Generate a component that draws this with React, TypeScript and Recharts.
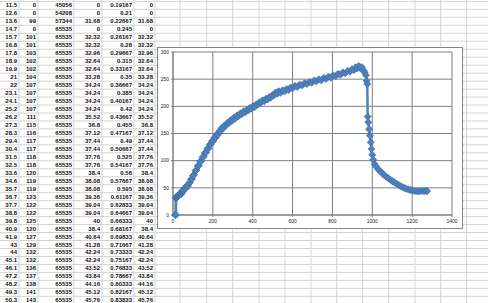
import { LineChart, Line, XAxis, YAxis, CartesianGrid } from "recharts";

// spreadsheet rows visible left of the chart
const tableTime = [11.5, 12.6, 13.6, 14.7, 15.7, 16.8, 17.8, 18.9, 19.9, 21, 22, 23.1, 24.1, 25.2, 26.2, 27.3, 28.3, 29.4, 30.4, 31.5, 32.5, 33.6, 34.6, 35.7, 36.7, 37.7, 38.8, 39.8, 40.9, 41.9, 43, 44, 45.1, 46.1, 47.2, 48.2, 49.3, 50.3];
const tableCount = [0, 0, 99, 0, 101, 101, 103, 102, 102, 104, 107, 107, 107, 107, 111, 115, 116, 117, 117, 118, 118, 120, 119, 119, 123, 122, 122, 125, 120, 127, 129, 132, 132, 136, 137, 138, 141, 143];
const tableRaw = [45056, 54208, 57344, 65535, 65535, 65535, 65535, 65535, 65535, 65535, 65535, 65535, 65535, 65535, 65535, 65535, 65535, 65535, 65535, 65535, 65535, 65535, 65535, 65535, 65535, 65535, 65535, 65535, 65535, 65535, 65535, 65535, 65535, 65535, 65535, 65535, 65535, 65535];
const tableValue = [0, 0, 31.68, 0, 32.32, 32.32, 32.96, 32.64, 32.64, 33.28, 34.24, 34.24, 34.24, 34.24, 35.52, 36.8, 37.12, 37.44, 37.44, 37.76, 37.76, 38.4, 38.08, 38.08, 39.36, 39.04, 39.04, 40, 38.4, 40.64, 41.28, 42.24, 42.24, 43.52, 43.84, 44.16, 45.12, 45.76];
const tableMinutes = [0.19167, 0.21, 0.22667, 0.245, 0.26167, 0.28, 0.29667, 0.315, 0.33167, 0.35, 0.36667, 0.385, 0.40167, 0.42, 0.43667, 0.455, 0.47167, 0.49, 0.50667, 0.525, 0.54167, 0.56, 0.57667, 0.595, 0.61167, 0.62833, 0.64667, 0.66333, 0.68167, 0.69833, 0.71667, 0.73333, 0.75167, 0.76833, 0.78667, 0.80333, 0.82167, 0.83833];

// rest of the run
const laterTime = [55, 60, 65, 70, 75, 80, 85, 90, 95, 100, 106, 112, 118, 124, 130, 136, 142, 148, 154, 160, 166, 172, 178, 184, 190, 196, 202, 208, 214, 220, 226, 232, 238, 244, 250, 258, 266, 274, 282, 290, 298, 306, 314, 322, 330, 338, 346, 354, 362, 370, 378, 386, 394, 402, 410, 418, 426, 434, 442, 450, 458, 466, 474, 482, 490, 498, 506, 514, 522, 530, 540, 550, 560, 570, 580, 590, 600, 612, 624, 636, 648, 660, 672, 684, 696, 708, 720, 732, 744, 756, 768, 780, 792, 804, 816, 828, 840, 852, 864, 876, 888, 898, 908, 916, 924, 932, 940, 948, 956, 962, 968, 972, 975, 977, 980, 984, 988, 992, 996, 1000, 1005, 1012, 1020, 1030, 1040, 1050, 1060, 1070, 1080, 1090, 1100, 1110, 1120, 1130, 1140, 1150, 1160, 1170, 1180, 1190, 1200, 1210, 1220, 1230, 1240, 1250, 1260, 1270, 1275];
const laterValue = [47.0, 49.8, 49.5, 53.9, 53.4, 58.2, 60.3, 65.5, 66.4, 72.3, 74.1, 81.2, 82.9, 90.1, 91.0, 98.4, 99.6, 106.5, 107.3, 114.2, 114.9, 121.9, 122.3, 129.5, 130.4, 136.2, 136.1, 142.5, 142.4, 148.3, 148.0, 154.1, 154.4, 160.0, 158.7, 164.6, 164.8, 170.1, 169.5, 174.6, 173.7, 179.3, 178.0, 183.2, 182.1, 186.9, 185.8, 190.7, 189.2, 193.6, 192.4, 197.3, 195.8, 200.4, 199.0, 203.5, 203.1, 207.2, 207.4, 211.0, 209.3, 213.9, 212.6, 216.8, 215.9, 220.3, 220.1, 225.2, 223.0, 227.9, 225.0, 229.4, 227.6, 231.8, 230.2, 234.5, 233.1, 237.6, 235.9, 240.1, 238.4, 242.6, 241.1, 245.0, 243.6, 247.5, 246.1, 249.7, 248.0, 252.2, 250.5, 254.6, 253.0, 257.1, 255.4, 259.6, 258.3, 262.4, 260.9, 265.2, 264.0, 268.3, 266.7, 271.6, 269.9, 274.2, 270.1, 272.0, 266.0, 262.5, 257.4, 246.8, 241.0, 181.0, 170.5, 158.0, 146.2, 133.7, 121.5, 110.8, 101.6, 93.4, 88.5, 84.0, 80.3, 76.9, 73.2, 70.4, 67.8, 65.1, 62.3, 60.4, 58.0, 55.9, 53.4, 51.6, 49.8, 48.5, 47.0, 46.2, 45.3, 44.6, 44.0, 43.7, 43.9, 44.2, 43.8, 44.5, 44.0];

const xTicks = [0, 200, 400, 600, 800, 1000, 1200, 1400];
const yTicks = [0, 50, 100, 150, 200, 250, 300];

const BLUE = "#4F81BD";
const GRID = "#d3d3d3";
const ROW_H = 7.97;
const ROW_Y0 = 5.4;
const leftCols = [19, 38, 74, 102, 134, 155];
const rightCols = [180, 206.7, 232.7, 259, 285, 311, 336.7, 362.7, 388.7, 415, 440.7, 466.7];

const data = tableTime
  .map((t, i) => ({ t, v: tableValue[i] }))
  .concat(laterTime.map((t, i) => ({ t, v: laterValue[i] })));

function Diamond(props: any) {
  const { cx, cy } = props;
  if (cx == null || cy == null) return null;
  const r = 3.6;
  return (
    <path
      d={`M${cx},${cy - r}L${cx + r},${cy}L${cx},${cy + r}L${cx - r},${cy}Z`}
      fill={BLUE}
      stroke="#3E6DA6"
      strokeWidth={0.6}
    />
  );
}

function Sheet() {
  const rows = tableTime.map((t, i) => [t, tableCount[i], tableRaw[i], tableValue[i], tableMinutes[i], tableValue[i]]);
  const hLines = [];
  for (let k = 0; k <= 38; k++) hLines.push(ROW_Y0 - ROW_H / 2 + k * ROW_H);
  return (
    <svg width={488} height={303} style={{ position: "absolute", left: 0, top: 0 }}>
      {hLines.map((y) => (
        <line key={y} x1={0} x2={488} y1={y} y2={y} stroke={GRID} strokeWidth={1} />
      ))}
      {leftCols.concat(rightCols).map((x) => (
        <line key={x} x1={x} x2={x} y1={0} y2={303} stroke={GRID} strokeWidth={1} />
      ))}
      {rows.map((r, i) =>
        r.map((cell, j) => (
          <text
            key={`${i}-${j}`}
            x={leftCols[j] - 2}
            y={ROW_Y0 + i * ROW_H}
            dominantBaseline="central"
            textAnchor="end"
            fontSize={6}
            fontFamily="Liberation Sans, sans-serif"
            fontWeight="bold"
            fill="#111"
          >
            {String(cell)}
          </text>
        ))
      )}
    </svg>
  );
}

export default function App() {
  return (
    <div style={{ position: "absolute", left: 0, top: 0, width: 488, height: 303, overflow: "hidden", background: "#fff" }}>
      <Sheet />
      <div
        style={{
          position: "absolute",
          left: 157,
          top: 47,
          width: 306,
          height: 182,
          boxSizing: "border-box",
          border: "1px solid #868686",
          background: "#fff",
        }}
      >
        <LineChart width={304} height={180} data={data} margin={{ top: 4, right: 10, bottom: 4, left: 4 }}>
          <CartesianGrid stroke="#7f7f7f" strokeWidth={1} />
          <XAxis
            type="number"
            dataKey="t"
            domain={[0, 1400]}
            ticks={xTicks}
            interval={0}
            height={9}
            stroke="#7f7f7f"
            tickSize={2}
            tick={{ fontSize: 5, fill: "#222", fontFamily: "Liberation Sans" }}
          />
          <YAxis
            type="number"
            domain={[0, 300]}
            ticks={yTicks}
            interval={0}
            width={11}
            stroke="#7f7f7f"
            tickSize={2}
            tick={{ fontSize: 5, fill: "#222", fontFamily: "Liberation Sans" }}
          />
          <Line
            type="linear"
            dataKey="v"
            stroke={BLUE}
            strokeWidth={2.5}
            dot={<Diamond />}
            activeDot={false}
            isAnimationActive={false}
          />
        </LineChart>
      </div>
    </div>
  );
}
